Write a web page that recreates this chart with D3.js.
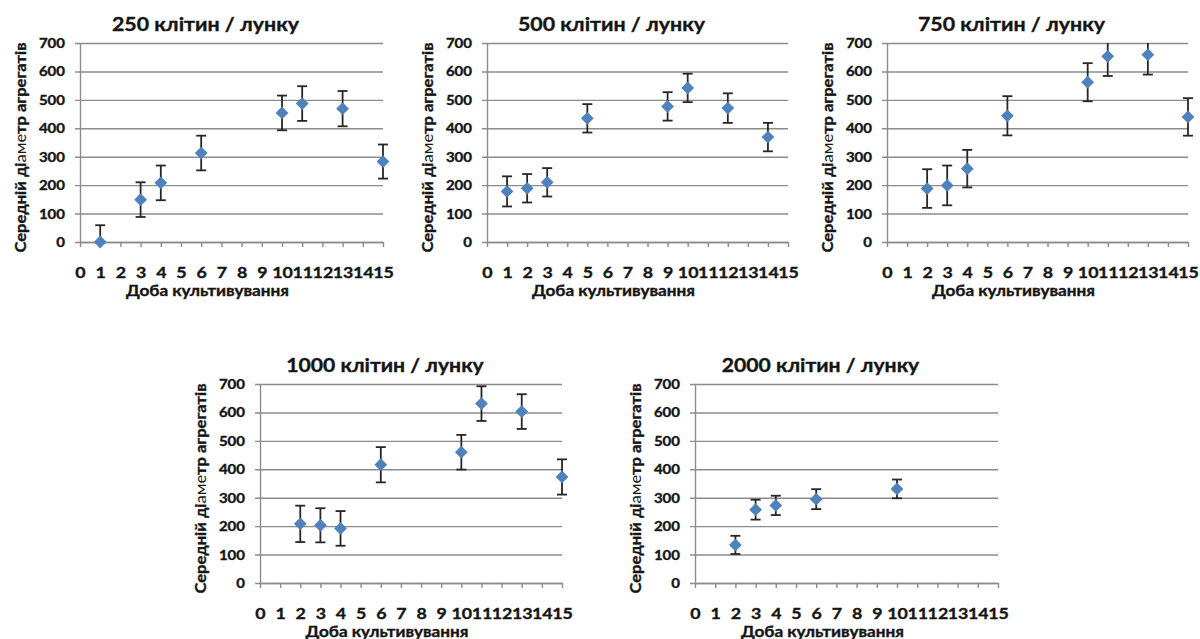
<!DOCTYPE html>
<html>
<head>
<meta charset="utf-8">
<script src="https://cdn.jsdelivr.net/npm/d3@7"></script>
<style>
  body { margin: 0; background: #fff; }
  text { font-family: Lato, "Open Sans", sans-serif; fill: #151515; }
  text.heavy { stroke: #151515; stroke-width: 0.35px; }
</style>
</head>
<body>
<script>
// values
var titles = ["250 клітин / лунку", "500 клітин / лунку", "750 клітин / лунку", "1000 клітин / лунку", "2000 клітин / лунку"]

var days250 = [1, 3, 4, 6, 10, 11, 13, 15]
var mean250 = [0, 149, 208, 313, 454, 487, 469, 283]
var err250 = [59, 61, 61, 61, 61, 61, 62, 60]

var days500 = [1, 2, 3, 5, 9, 10, 12, 14]
var mean500 = [178, 189, 210, 435, 477, 542, 471, 369]
var err500 = [53, 50, 50, 50, 50, 50, 52, 50]

var days750 = [2, 3, 4, 6, 10, 11, 13, 15]
var mean750 = [188, 199, 258, 444, 562, 653, 659, 440]
var err750 = [68, 70, 66, 69, 67, 69, 70, 66]

var days1000 = [2, 3, 4, 6, 10, 11, 13, 15]
var mean1000 = [208, 203, 192, 416, 460, 631, 603, 373]
var err1000 = [64, 60, 61, 62, 61, 61, 61, 62]

var days2000 = [2, 3, 4, 6, 10]
var mean2000 = [134, 258, 273, 295, 331]
var err2000 = [32, 35, 34, 35, 33]

var xTicks = d3.range(0, 16)
var yTicks = [0, 100, 200, 300, 400, 500, 600, 700]
var xTitle = "Доба культивування"

// plot rectangles of the five panels
var boxes = [
    { x0: 80, x1: 383, y0: 43, y1: 242 },
    { x0: 487, x1: 788, y0: 43, y1: 242 },
    { x0: 887, x1: 1188, y0: 43, y1: 242 },
    { x0: 260, x1: 562, y0: 384, y1: 583 },
    { x0: 695, x1: 998, y0: 384, y1: 583 }
]
var series = [
    [days250, mean250, err250],
    [days500, mean500, err500],
    [days750, mean750, err750],
    [days1000, mean1000, err1000],
    [days2000, mean2000, err2000]
]

var svg = d3.select("body").append("svg")
    .attr("width", 1200)
    .attr("height", 639)

var gridColor = "#8c8c8c"
var blue = "#4F81BD"

boxes.forEach(function (b, i) {
    var days = series[i][0], means = series[i][1], errs = series[i][2]
    var data = days.map((d, k) => ({ x: d, y: means[k], e: errs[k] }))

    var x = d3.scaleLinear().domain([0, 15]).range([b.x0, b.x1])
    var y = d3.scaleLinear().domain([0, 700]).range([b.y1, b.y0])
    var w = b.x1 - b.x0

    // y axis + gridlines
    var ejeY = d3.axisLeft(y).tickValues(yTicks).tickSizeInner(-w).tickSizeOuter(0)
    var gy = svg.append("g")
        .attr("transform", "translate(" + b.x0 + ",0)")
        .call(ejeY)
    gy.selectAll(".tick line").attr("x1", -5).attr("stroke", gridColor).attr("stroke-width", 1.4)
    gy.select(".domain").attr("stroke", gridColor).attr("stroke-width", 1.4)
    gy.selectAll(".tick text")
        .attr("class", "heavy")
        .attr("x", -15 / 1.2)
        .attr("dy", "0.36em")
        .attr("transform", "scale(1.2,1)")
        .style("font-size", "12.5px")
        .style("font-weight", "bold")

    // x axis
    var ejeX = d3.axisBottom(x).tickValues(xTicks).tickSize(5).tickSizeOuter(0)
    var gx = svg.append("g")
        .attr("transform", "translate(0," + b.y1 + ")")
        .call(ejeX)
    gx.select(".domain").attr("stroke", gridColor).attr("stroke-width", 1.4)
    gx.selectAll(".tick line").attr("stroke", gridColor).attr("stroke-width", 1.4)
    gx.selectAll(".tick text")
        .attr("class", "heavy")
        .attr("y", 36)
        .attr("dy", null)
        .attr("transform", "scale(1.15,1)")
        .style("font-size", "15.5px")
        .style("font-weight", "bold")

    // error bars
    var eb = svg.append("g").attr("stroke", "#262626").attr("stroke-width", 1.8)
    data.forEach(function (d) {
        var top = Math.min(700, d.y + d.e), bot = Math.max(0, d.y - d.e)
        eb.append("line").attr("x1", x(d.x)).attr("x2", x(d.x)).attr("y1", y(top)).attr("y2", y(bot))
        if (d.y + d.e <= 700)
            eb.append("line").attr("x1", x(d.x) - 5).attr("x2", x(d.x) + 5).attr("y1", y(top)).attr("y2", y(top))
        if (d.y - d.e >= 0)
            eb.append("line").attr("x1", x(d.x) - 5).attr("x2", x(d.x) + 5).attr("y1", y(bot)).attr("y2", y(bot))
    })

    // diamonds
    svg.append("g").selectAll("path")
        .data(data)
        .join("path")
        .attr("d", d3.symbol().type(d3.symbolDiamond2).size(104))
        .attr("transform", d => "translate(" + x(d.x) + "," + y(d.y) + ")")
        .attr("fill", blue)

    var cx = (b.x0 + b.x1) / 2

    // title
    svg.append("text")
        .attr("class", "heavy")
        .attr("x", cx - 26)
        .attr("y", b.y0 - 12)
        .attr("text-anchor", "middle")
        .attr("textLength", titles[i].length * 10.4)
        .attr("lengthAdjust", "spacingAndGlyphs")
        .style("font-size", "18.5px")
        .style("font-weight", "bold")
        .text(titles[i])

    // x axis title
    svg.append("text")
        .attr("class", "heavy")
        .attr("x", cx - 24)
        .attr("y", b.y1 + 54)
        .attr("text-anchor", "middle")
        .attr("textLength", 163)
        .attr("lengthAdjust", "spacingAndGlyphs")
        .style("font-size", "15px")
        .style("font-weight", "bold")
        .text(xTitle)

    // y axis title, "аме" is lighter in the original
    var ty = svg.append("text")
        .attr("class", "heavy")
        .attr("transform", "translate(" + (b.x0 - 54) + "," + ((b.y0 + b.y1) / 2 + 5) + ") rotate(-90)")
        .attr("text-anchor", "middle")
        .attr("textLength", 210)
        .attr("lengthAdjust", "spacingAndGlyphs")
        .style("font-size", "15px")
        .style("font-weight", "bold")
    ty.append("tspan").text("Середній ді")
    ty.append("tspan").style("font-weight", "normal").style("stroke-width", 0).text("аме")
    ty.append("tspan").text("тр агрегатів")
})
</script>
</body>
</html>
